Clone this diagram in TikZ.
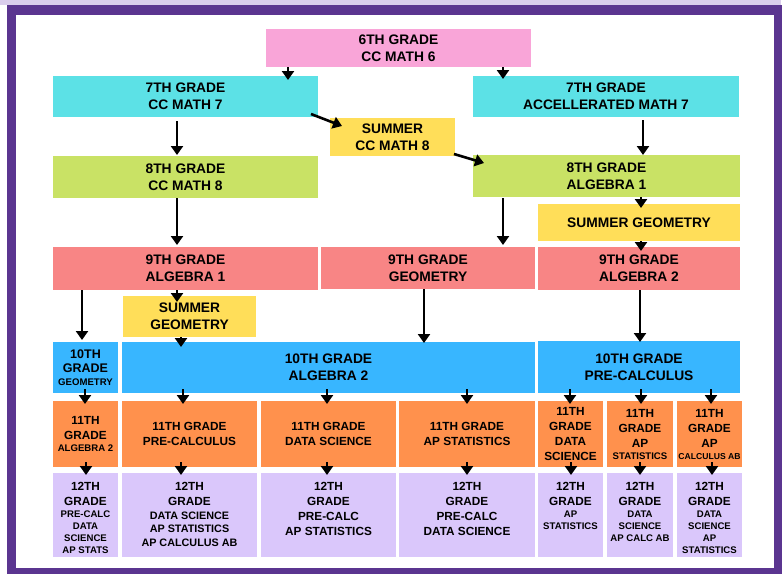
\documentclass[tikz,border=0pt]{standalone}
\usepackage{fontspec}
\setmainfont{Liberation Sans}
\usetikzlibrary{arrows.meta}

\definecolor{topband}{HTML}{DACDEC}
\definecolor{framec}{HTML}{5B3590}
\definecolor{pinkc}{HTML}{F9A5D8}
\definecolor{cyanc}{HTML}{5CE1E6}
\definecolor{greenc}{HTML}{C9E265}
\definecolor{yellowc}{HTML}{FFDE59}
\definecolor{redc}{HTML}{F88585}
\definecolor{bluec}{HTML}{38B6FF}
\definecolor{orangec}{HTML}{FF914D}
\definecolor{lavc}{HTML}{DAC7FB}

\newcommand{\fbig}{\fontsize{13.8}{17}\selectfont}
\newcommand{\fmid}{\fontsize{11.8}{15}\selectfont}
\newcommand{\fsml}{\fontsize{9.6}{12}\selectfont}
% box text: width, height, lines
\newcommand{\course}[3]{\parbox[c][#2pt][c]{#1pt}{\centering #3}}
\newcommand{\coursetop}[3]{\parbox[c][#2pt][t]{#1pt}{\centering\vspace*{9.5pt}#3}}

\tikzset{
  course/.style={fill=#1, inner sep=0pt, outer sep=0pt, font=\bfseries},
  arr/.style={line width=2.6pt, -{Triangle[width=12pt,length=9pt]}}
}

\begin{document}
\begin{tikzpicture}[x=1pt,y=-1pt]
    \useasboundingbox (0,0) rectangle (783,574);
    \fill[topband] (0,0) rectangle (781,5);
    \fill[framec] (7,5) rectangle (782,574);
    \fill[white] (16,15) rectangle (774,568);

    % grades 6 to 8
    \node[course=pinkc] (g6) at (398.5,48) {\course{265}{38}{\fbig 6TH GRADE\par CC MATH 6\par}};
    \node[course=cyanc] (g7a) at (185.5,96.5) {\course{265}{41}{\fbig 7TH GRADE\par CC MATH 7\par}};
    \node[course=cyanc] (g7b) at (606,96.5) {\course{266}{41}{\fbig 7TH GRADE\par ACCELLERATED MATH 7\par}};
    \node[course=yellowc] (s8) at (392.5,137) {\course{125}{38}{\fbig SUMMER\par CC MATH 8\par}};
    \node[course=greenc] (g8a) at (185.5,177) {\course{265}{42}{\fbig 8TH GRADE\par CC MATH 8\par}};
    \node[course=greenc] (g8b) at (606.5,176) {\course{267}{42}{\fbig 8TH GRADE\par ALGEBRA 1\par}};
    \node[course=yellowc] (sgb) at (639,222.5) {\course{202}{37}{\fbig SUMMER GEOMETRY\par}};

    % grades 9 and 10
    \node[course=redc] (g9a) at (185.5,268.5) {\course{265}{43}{\fbig 9TH GRADE\par ALGEBRA 1\par}};
    \node[course=redc] (g9b) at (428,268) {\course{214}{42}{\fbig 9TH GRADE\par GEOMETRY\par}};
    \node[course=redc] (g9c) at (639,268.5) {\course{202}{43}{\fbig 9TH GRADE\par ALGEBRA 2\par}};
    \node[course=yellowc] (sga) at (189.5,316.5) {\course{133}{41}{\fbig SUMMER\par GEOMETRY\par}};
    \node[course=bluec] (g10a) at (85.5,367.5) {\course{65}{51}{{\fontsize{12.5}{14}\selectfont 10TH\par GRADE\par}{\fontsize{9.6}{12.5}\selectfont GEOMETRY\par}}};
    \node[course=bluec] (g10b) at (328.5,367.5) {\course{413}{51}{\fbig 10TH GRADE\par ALGEBRA 2\par}};
    \node[course=bluec] (g10c) at (639,367) {\course{202}{52}{\fbig 10TH GRADE\par PRE-CALCULUS\par}};

    % grade 11
    \node[course=orangec] (e1) at (85.5,434) {\course{65}{66}{{\fmid 11TH\par GRADE\par}{\fsml ALGEBRA 2\par}}};
    \node[course=orangec] (e2) at (189.5,434) {\course{135}{66}{\fmid 11TH GRADE\par PRE-CALCULUS\par}};
    \node[course=orangec] (e3) at (328.5,434) {\course{135}{66}{\fmid 11TH GRADE\par DATA SCIENCE\par}};
    \node[course=orangec] (e4) at (467,434) {\course{136}{66}{\fmid 11TH GRADE\par AP STATISTICS\par}};
    \node[course=orangec] (e5) at (570.5,434) {\course{65}{66}{\fmid 11TH\par GRADE\par DATA\par SCIENCE\par}};
    \node[course=orangec] (e6) at (640,434) {\course{66}{66}{{\fmid 11TH\par GRADE\par AP\par}{\fsml STATISTICS\par}}};
    \node[course=orangec] (e7) at (709.5,434) {\course{65}{66}{{\fmid 11TH\par GRADE\par AP\par}{\fontsize{8.6}{12}\selectfont CALCULUS AB\par}}};

    % grade 12
    \node[course=lavc] (t1) at (85.5,515) {\coursetop{65}{84}{{\fmid 12TH\par GRADE\par}{\fsml PRE-CALC\par DATA\par SCIENCE\par AP STATS\par}}};
    \node[course=lavc] (t2) at (189.5,515) {\coursetop{135}{84}{{\fmid 12TH\par GRADE\par}{\fontsize{10.8}{13.5}\selectfont DATA SCIENCE\par AP STATISTICS\par AP CALCULUS AB\par}}};
    \node[course=lavc] (t3) at (328.5,515) {\coursetop{135}{84}{\fmid 12TH\par GRADE\par PRE-CALC\par AP STATISTICS\par}};
    \node[course=lavc] (t4) at (467,515) {\coursetop{136}{84}{\fmid 12TH\par GRADE\par PRE-CALC\par DATA SCIENCE\par}};
    \node[course=lavc] (t5) at (570.5,515) {\coursetop{65}{84}{{\fmid 12TH\par GRADE\par}{\fsml AP\par STATISTICS\par}}};
    \node[course=lavc] (t6) at (640,515) {\coursetop{66}{84}{{\fmid 12TH\par GRADE\par}{\fsml DATA\par SCIENCE\par AP CALC AB\par}}};
    \node[course=lavc] (t7) at (709.5,515) {\coursetop{65}{84}{{\fmid 12TH\par GRADE\par}{\fsml DATA\par SCIENCE\par AP\par STATISTICS\par}}};

    \path [arr] ([shift={(-110.5,0)}]g6.south) edge ([shift={(102.5,4)}]g7a.north);
    \path [arr] ([shift={(104.5,0)}]g6.south) edge ([shift={(-103,3)}]g7b.north);
    \path [arr] ([shift={(-8.5,4)}]g7a.south) edge ([shift={(-8.5,-1)}]g8a.north);
    \path [arr] ([shift={(-7,-3)}]g7a.south east) edge ([shift={(12,8)}]s8.north west);
    \path [arr] ([shift={(-1,-2)}]s8.south east) edge ([shift={(11,8)}]g8b.north west);
    \path [arr] ([shift={(37,3)}]g7b.south) edge ([shift={(36.5,0)}]g8b.north);
    \path [arr] ([shift={(-8.5,0)}]g8a.south) edge ([shift={(-8.5,-2)}]g9a.north);
    \path [arr] ([shift={(-103.5,1)}]g8b.south) edge ([shift={(75,-2)}]g9b.north);
    \path [arr] ([shift={(34.5,0)}]g8b.south) edge ([shift={(2,4)}]sgb.north);
    \path [arr] ([shift={(2,0)}]sgb.south) edge ([shift={(2,4)}]g9c.north);
    \path [arr] ([shift={(-103.5,0)}]g9a.south) edge ([shift={(-3.5,-2)}]g10a.north);
    \path [arr] ([shift={(-8.5,0)}]g9a.south) edge ([shift={(-12.5,6)}]sga.north);
    \path [arr] ([shift={(-8.5,0)}]sga.south) edge ([shift={(-147.5,5)}]g10b.north);
    \path [arr] ([shift={(-4,0)}]g9b.south) edge ([shift={(95.5,1)}]g10b.north);
    \path [arr] ([shift={(1,0)}]g9c.south) edge ([shift={(1,1)}]g10c.north);

    \path [arr] ([shift={(-0.5,-4)}]g10a.south) edge ([shift={(-0.5,3)}]e1.north);
    \path [arr] ([shift={(-145.5,-4)}]g10b.south) edge ([shift={(-6.5,3)}]e2.north);
    \path [arr] ([shift={(-1.5,-4)}]g10b.south) edge ([shift={(-1.5,3)}]e3.north);
    \path [arr] ([shift={(138.5,-4)}]g10b.south) edge ([shift={(0,3)}]e4.north);
    \path [arr] ([shift={(-69,-4)}]g10c.south) edge ([shift={(-0.5,3)}]e5.north);
    \path [arr] ([shift={(2,-4)}]g10c.south) edge ([shift={(1,3)}]e6.north);
    \path [arr] ([shift={(72,-4)}]g10c.south) edge ([shift={(1.5,3)}]e7.north);

    \path [arr] ([shift={(0.5,-5)}]e1.south) edge ([shift={(0.5,2)}]t1.north);
    \path [arr] ([shift={(-8.5,-5)}]e2.south) edge ([shift={(-8.5,2)}]t2.north);
    \path [arr] ([shift={(-1.5,-5)}]e3.south) edge ([shift={(-1.5,2)}]t3.north);
    \path [arr] ([shift={(0,-5)}]e4.south) edge ([shift={(0,2)}]t4.north);
    \path [arr] ([shift={(0.5,-5)}]e5.south) edge ([shift={(0.5,2)}]t5.north);
    \path [arr] ([shift={(0,-5)}]e6.south) edge ([shift={(0,2)}]t6.north);
    \path [arr] ([shift={(2.5,-5)}]e7.south) edge ([shift={(2.5,2)}]t7.north);
\end{tikzpicture}
\end{document}
